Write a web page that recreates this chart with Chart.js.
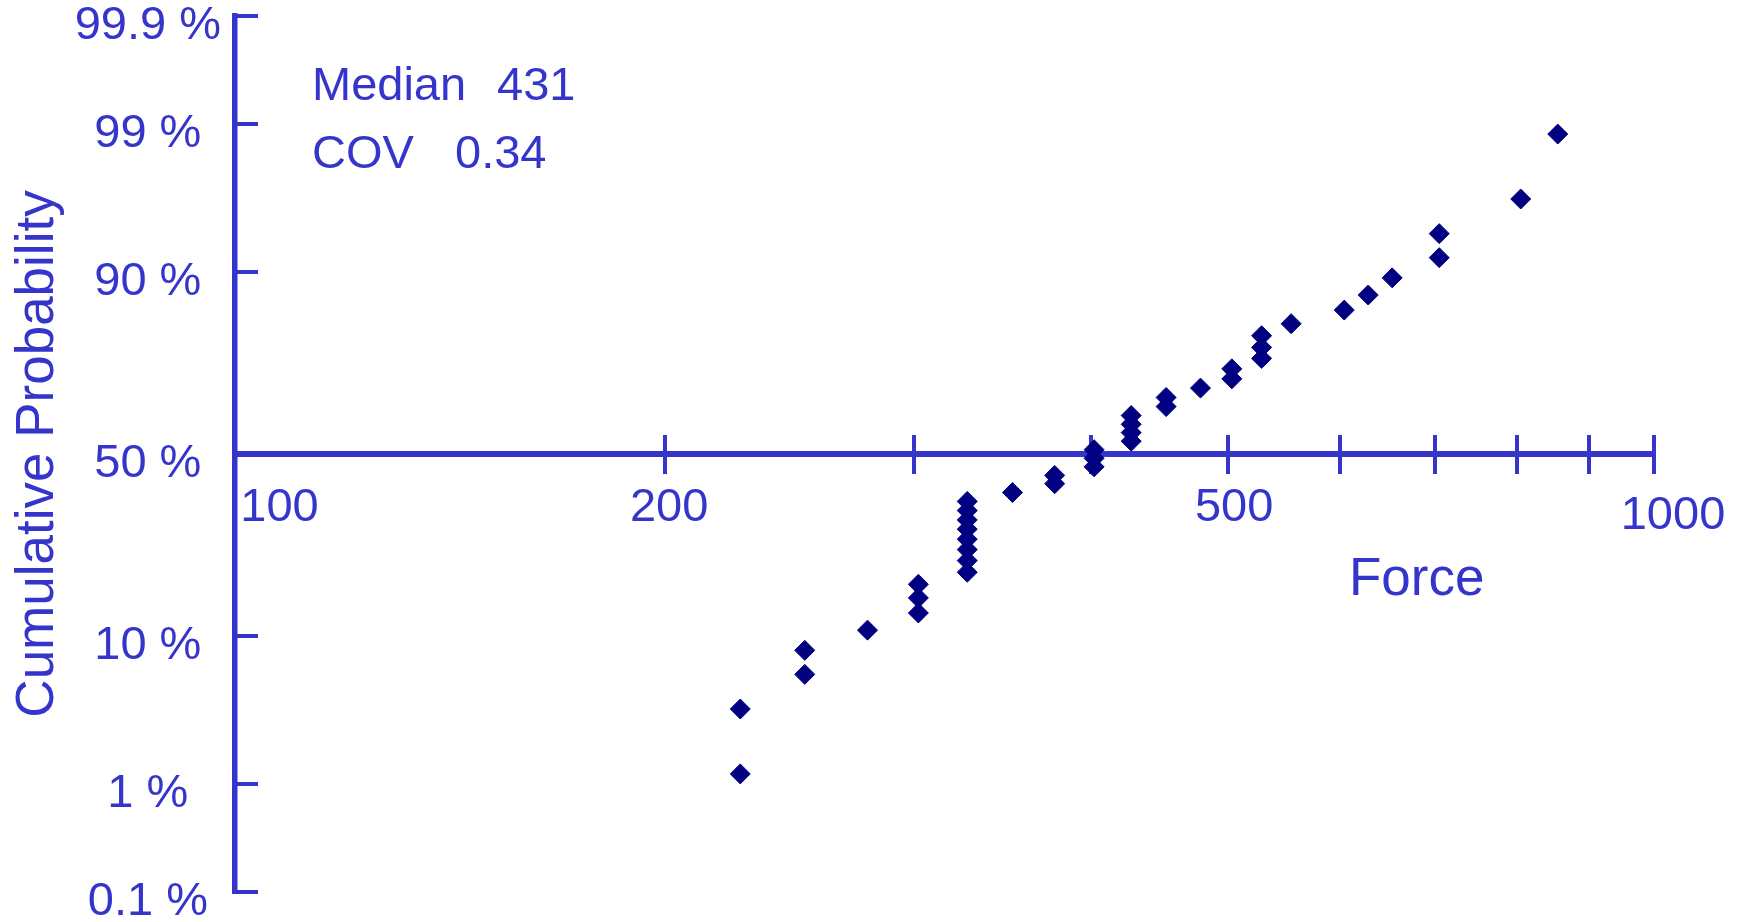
<!DOCTYPE html>
<html>
<head>
<meta charset="utf-8">
<title>Cumulative Probability</title>
<script src="https://cdn.jsdelivr.net/npm/chart.js@4.4.1/dist/chart.umd.min.js"></script>
<style>
  body { margin: 0; background: #fff; }
  #wrap { width: 1748px; height: 922px; }
</style>
</head>
<body>
<div id="wrap"><canvas id="chartProb"></canvas></div>
<script>
// force readings, sorted
const forceValues = [226, 226, 251, 251, 278, 302, 302, 302,
  327, 327, 327, 327, 327, 327, 327, 327,
  352, 377, 377, 402, 402, 402, 427, 427, 427, 427,
  452, 452, 478, 503, 503, 528, 528, 528, 554,
  604, 628, 653, 705, 705, 805, 855];
// cumulative probability of each reading, in %
const cumPercent = [1.2, 3.6, 6.0, 8.3, 10.7, 13.1, 15.5, 17.9,
  20.2, 22.6, 25.0, 27.4, 29.8, 32.1, 34.5, 36.9,
  39.3, 41.7, 44.0, 46.4, 48.8, 51.2, 53.6, 56.0, 58.3, 60.7,
  63.1, 65.5, 67.9, 70.2, 72.6, 75.0, 77.4, 79.8, 82.1,
  84.5, 86.9, 89.3, 91.7, 94.0, 96.4, 98.8];

const probTicks = [0.1, 1, 10, 50, 90, 99, 99.9];
const forceTicks = [200, 300, 400, 500, 600, 700, 800, 900, 1000];
const forceLabels = [100, 200, 500, 1000];
const statNames = ['Median', 'COV'];
const statValues = ['431', '0.34'];

const biru = '#3535cc';
const FONT = '"Liberation Sans", Arial, Helvetica, sans-serif';

// inverse normal cdf (Acklam)
function probit(p) {
  const a = [-39.69683028665376, 220.9460984245205, -275.9285104469687, 138.3577518672690, -30.66479806614716, 2.506628277459239];
  const b = [-54.47609879822406, 161.5858368580409, -155.6989798598866, 66.80131188771972, -13.28068155211809];
  const c = [-0.007784894002430293, -0.3223964580411365, -2.400758277161838, -2.549732539343734, 4.374664141464968, 2.938163982698783];
  const d = [0.007784695709041462, 0.3224671290700398, 2.445134137142996, 3.754408661907416];
  const pl = 0.02425;
  let q, r;
  if (p < pl) {
    q = Math.sqrt(-2 * Math.log(p));
    return (((((c[0]*q+c[1])*q+c[2])*q+c[3])*q+c[4])*q+c[5]) / ((((d[0]*q+d[1])*q+d[2])*q+d[3])*q+1);
  }
  if (p > 1 - pl) {
    q = Math.sqrt(-2 * Math.log(1 - p));
    return -(((((c[0]*q+c[1])*q+c[2])*q+c[3])*q+c[4])*q+c[5]) / ((((d[0]*q+d[1])*q+d[2])*q+d[3])*q+1);
  }
  q = p - 0.5;
  r = q * q;
  return (((((a[0]*r+a[1])*r+a[2])*r+a[3])*r+a[4])*r+a[5])*q / (((((b[0]*r+b[1])*r+b[2])*r+b[3])*r+b[4])*r+1);
}

function normCdf(z) {
  const t = 1 / (1 + 0.2316419 * Math.abs(z));
  const d = 0.3989423 * Math.exp(-z * z / 2);
  const p = d * t * (0.3193815 + t * (-0.3565638 + t * (1.781478 + t * (-1.821256 + t * 1.330274))));
  return z > 0 ? 1 - p : p;
}

// probability-paper scale for the y axis
class ProbitScale extends Chart.LinearScale {
  buildTicks() {
    return probTicks.map(v => ({ value: v }));
  }
  zRange() {
    return [probit(this.min / 100), probit(this.max / 100)];
  }
  getPixelForValue(value) {
    const [z0, z1] = this.zRange();
    return this.getPixelForDecimal((probit(value / 100) - z0) / (z1 - z0));
  }
  getValueForPixel(pixel) {
    const [z0, z1] = this.zRange();
    return normCdf(z0 + this.getDecimalForPixel(pixel) * (z1 - z0)) * 100;
  }
}
ProbitScale.id = 'probit';
ProbitScale.defaults = {};
Chart.register(ProbitScale);

const labelShift = [
  { align: 'left', dx: 1, dy: 67 },
  { align: 'center', dx: 4, dy: 67 },
  { align: 'center', dx: 6, dy: 67 },
  { align: 'center', dx: 19, dy: 75 }
];

const textPlugin = {
  id: 'teksGrafik',
  afterDraw(c) {
    const ctx = c.ctx;
    const sx = c.scales.x;
    const axisY = c.scales.y.getPixelForValue(50);
    ctx.save();
    ctx.fillStyle = biru;
    ctx.textBaseline = 'alphabetic';
    ctx.font = '47px ' + FONT;
    forceLabels.forEach((v, i) => {
      const s = labelShift[i];
      ctx.textAlign = s.align;
      ctx.fillText(String(v), sx.getPixelForValue(v) + s.dx, axisY + s.dy);
    });
    ctx.textAlign = 'left';
    ctx.fillText(statNames[0], 312, 100);
    ctx.fillText(statValues[0], 497, 100);
    ctx.fillText(statNames[1], 312, 168);
    ctx.fillText(statValues[1], 455, 168);
    ctx.font = '53px ' + FONT;
    ctx.fillText('Force', 1349, 595);
    ctx.restore();
  }
};

function setTicks(s) {
  s.ticks = forceTicks.map(v => ({ value: v }));
}

let chart = new Chart(document.getElementById('chartProb'), {
  type: 'scatter',
  data: {
    datasets: [{
      data: forceValues.map((f, i) => ({ x: f, y: cumPercent[i] })),
      pointStyle: 'rectRot',
      pointRadius: 10,
      pointHoverRadius: 10,
      backgroundColor: '#000080',
      borderColor: '#000080',
      borderWidth: 1
    }]
  },
  options: {
    responsive: true,
    maintainAspectRatio: false,
    animation: false,
    events: [],
    layout: { padding: { left: 0, top: 16, right: 94, bottom: 30 } },
    plugins: { legend: { display: false }, tooltip: { enabled: false } },
    scales: {
      x: {
        type: 'logarithmic',
        position: { y: 50 },
        min: 99.3, max: 1000, bounds: 'data',
        afterBuildTicks: setTicks,
        grid: { display: true, drawOnChartArea: false, drawTicks: true, tickLength: 17, tickWidth: 4, lineWidth: 4, color: biru, tickColor: biru },
        border: { display: true, color: biru, width: 6 },
        ticks: { display: false }
      },
      xUp: {
        type: 'logarithmic',
        axis: 'x',
        position: { y: 50 },
        min: 99.3, max: 1000, bounds: 'data',
        afterBuildTicks: setTicks,
        grid: { display: true, drawOnChartArea: false, drawTicks: true, tickLength: -19, tickWidth: 4, lineWidth: 4, color: biru, tickColor: biru },
        border: { display: false },
        ticks: { display: false }
      },
      y: {
        type: 'probit',
        position: 'left',
        min: 0.1, max: 99.9,
        afterFit: s => { s.width = 235; s.paddingTop = 0; s.paddingBottom = 0; },
        grid: { display: true, drawOnChartArea: false, drawTicks: true, tickLength: -23, tickWidth: 4, lineWidth: 4, color: biru, tickColor: biru },
        border: { display: true, color: biru, width: 5.5 },
        ticks: {
          autoSkip: false,
          crossAlign: 'center',
          padding: 37,
          labelOffset: 10,
          color: biru,
          font: { family: FONT, size: 47 },
          callback: v => v + ' %'
        },
        title: {
          display: true,
          text: 'Cumulative Probability',
          color: biru,
          font: { family: FONT, size: 53 },
          padding: { top: 7, bottom: 0 }
        }
      }
    }
  },
  plugins: [textPlugin]
});
</script>
</body>
</html>
